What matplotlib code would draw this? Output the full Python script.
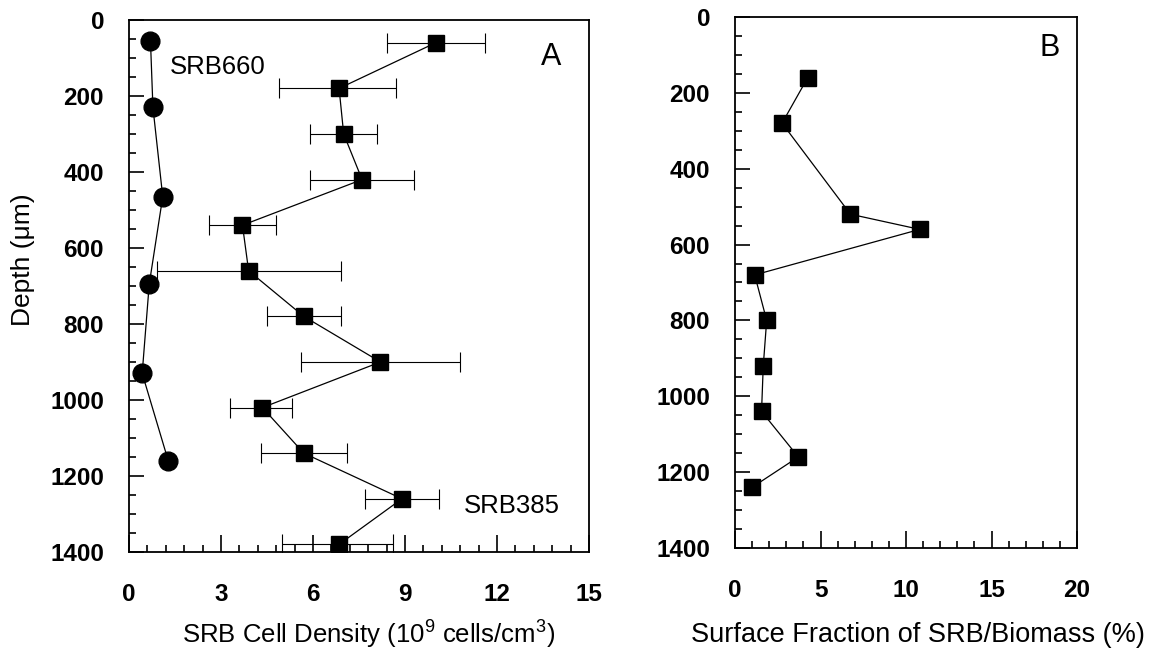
import matplotlib
matplotlib.use('Agg')
import matplotlib.pyplot as plt
from matplotlib.ticker import MultipleLocator

plt.rcParams['font.family'] = ['Liberation Sans', 'DejaVu Sans']
plt.rcParams['mathtext.fontset'] = 'custom'
plt.rcParams['mathtext.rm'] = 'Liberation Sans'

# Panel A: SRB660 (circles)
depth_660 = [55, 230, 465, 695, 930, 1160]
dens_660 = [0.70, 0.78, 1.10, 0.66, 0.43, 1.28]

# Panel A: SRB385 (squares, with x error bars)
depth_385 = [60, 180, 300, 420, 540, 660, 780, 900, 1020, 1140, 1260, 1380]
dens_385 = [10.0, 6.85, 7.0, 7.6, 3.7, 3.9, 5.7, 8.2, 4.35, 5.7, 8.9, 6.85]
err_lo = [8.4, 4.9, 5.9, 5.9, 2.6, 0.9, 4.5, 5.6, 3.3, 4.3, 7.7, 5.0]
err_hi = [11.6, 8.7, 8.1, 9.3, 4.8, 6.9, 6.9, 10.8, 5.3, 7.1, 10.1, 8.6]

# Panel B: surface fraction
depth_b = [160, 280, 520, 560, 680, 800, 920, 1040, 1160, 1240]
frac_b = [4.25, 2.75, 6.75, 10.8, 1.15, 1.85, 1.65, 1.55, 3.7, 1.0]

xerr = [[d - lo for d, lo in zip(dens_385, err_lo)],
        [hi - d for d, hi in zip(dens_385, err_hi)]]


def style_axis(ax, xmax, xmajor, xminor):
    ax.set_ylim(1400, 0)
    ax.set_xlim(0, xmax)
    ax.yaxis.set_major_locator(MultipleLocator(200))
    ax.yaxis.set_minor_locator(MultipleLocator(50))
    ax.xaxis.set_major_locator(MultipleLocator(xmajor))
    ax.xaxis.set_minor_locator(MultipleLocator(xminor))
    ax.tick_params(axis='both', which='both', direction='in', top=False, right=False, width=1.2)
    ax.tick_params(axis='y', which='major', length=11, pad=18)
    ax.tick_params(axis='y', which='minor', length=5)
    ax.tick_params(axis='x', which='major', length=12, pad=22)
    ax.tick_params(axis='x', which='minor', length=5)
    for lab in ax.get_xticklabels() + ax.get_yticklabels():
        lab.set_fontweight('bold')
        lab.set_fontsize(17.5)
    for sp in ax.spines.values():
        sp.set_linewidth(1.3)


fig = plt.figure(figsize=(11.57, 6.53), dpi=100)
ax1 = fig.add_axes([0.1115, 0.1547, 0.3976, 0.8147])
ax2 = fig.add_axes([0.6353, 0.1608, 0.2956, 0.8132])

# Panel A
ax1.plot(dens_660, depth_660, color='k', marker='o', markersize=13.5, linewidth=0.9)
ax1.errorbar(dens_385, depth_385, xerr=xerr, color='k', marker='s', markersize=12,
             linewidth=0.9, elinewidth=0.8, capsize=7, capthick=0.8)
style_axis(ax1, 15, 3, 0.6)
ax1.set_xlabel('SRB Cell Density (10$^{9}$ cells/cm$^{3}$)', fontsize=18.5)
ax1.set_ylabel('Depth (\u03bcm)', fontsize=19)
ax1.xaxis.set_label_coords(0.52, -0.122)
ax1.yaxis.set_label_coords(-0.205, 0.55)
ax1.text(0.088, 0.911, 'SRB660', transform=ax1.transAxes, fontsize=18.5, va='center')
ax1.text(0.728, 0.087, 'SRB385', transform=ax1.transAxes, fontsize=18.5, va='center')
ax1.text(0.895, 0.931, 'A', transform=ax1.transAxes, fontsize=22, va='center')

# Panel B
ax2.plot(frac_b, depth_b, color='k', marker='s', markersize=12, linewidth=0.9)
style_axis(ax2, 20, 5, 1)
ax2.set_xlabel('Surface Fraction of SRB/Biomass (%)', fontsize=19.5)
ax2.xaxis.set_label_coords(0.535, -0.14)
ax2.text(0.89, 0.942, 'B', transform=ax2.transAxes, fontsize=22, va='center')

fig.savefig('out.png', dpi=100)
